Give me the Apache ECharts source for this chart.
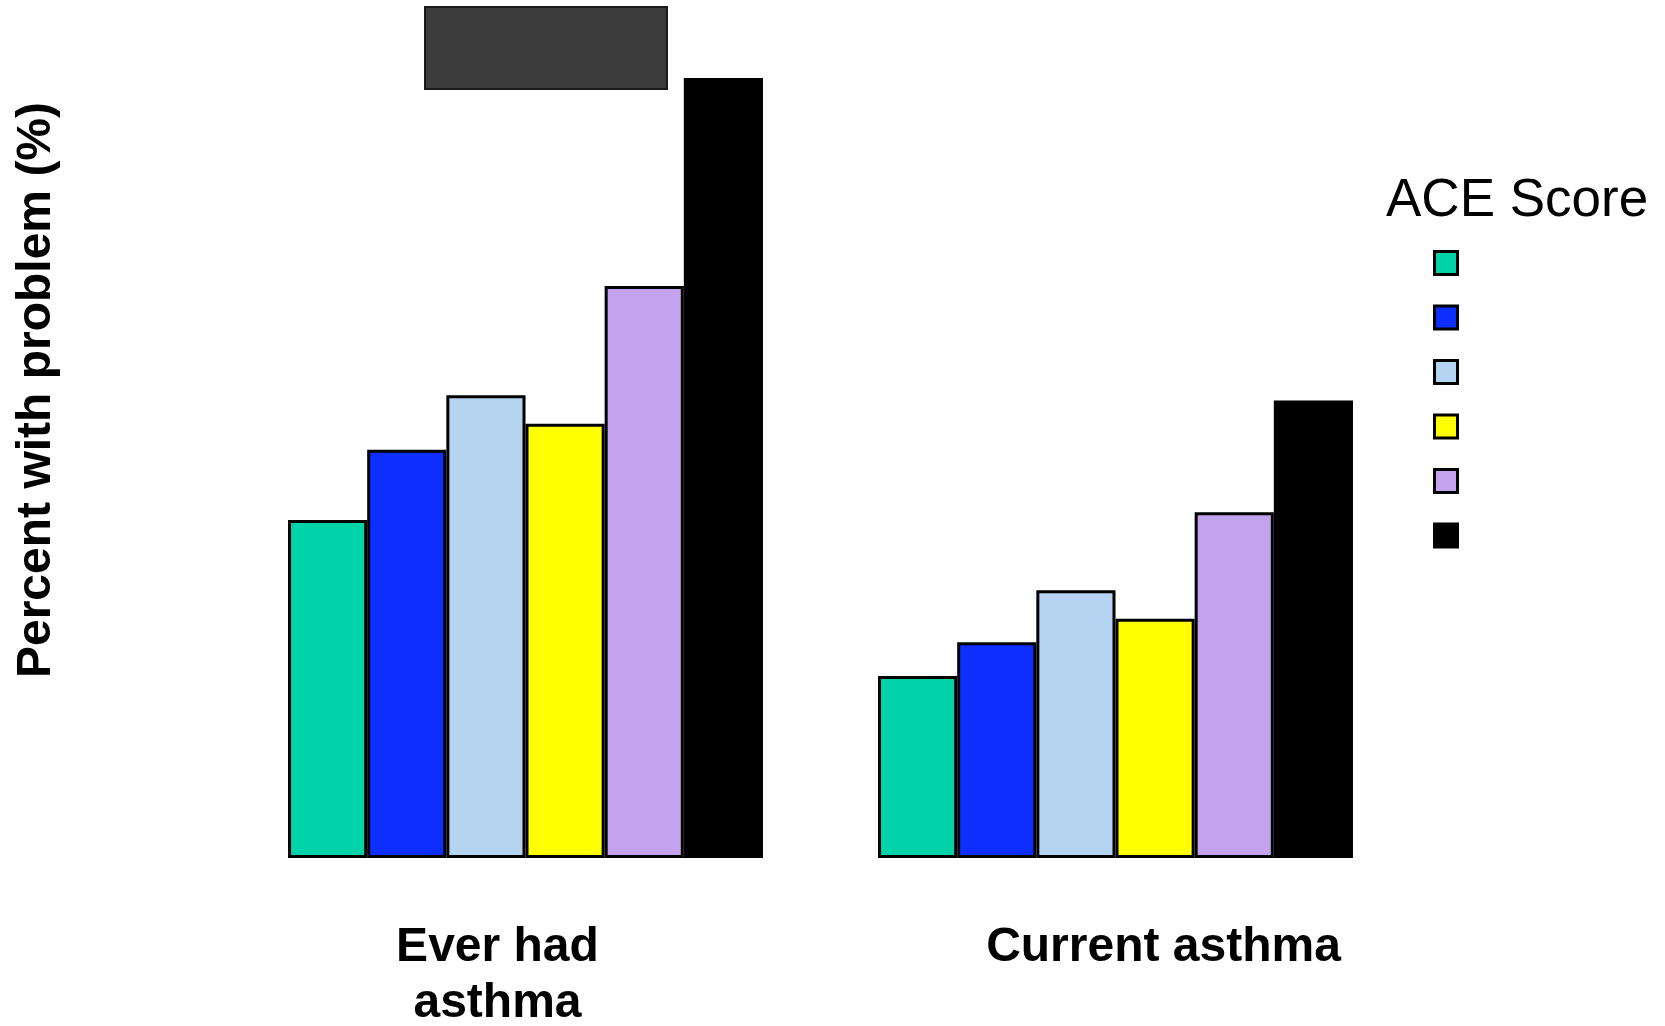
<!DOCTYPE html>
<html>
<head>
<meta charset="utf-8">
<script src="https://cdn.jsdelivr.net/npm/echarts@6/dist/echarts.min.js"></script>
<style>
  html, body { margin: 0; padding: 0; background: #fff; }
  #main { width: 1665px; height: 1026px; }
</style>
</head>
<body>
<div id="main"></div>
<script>
// data (percent, estimated)
var categories = ['Ever had\nasthma', 'Current asthma'];
var aceScores = ['0', '1', '2', '3', '4', '5+'];
var colors = ['#00D2AA', '#0D2EFF', '#B4D4F2', '#FFFF00', '#C3A3EE', '#000000'];
var everHad = [13.0, 15.7, 17.8, 16.7, 22.0, 30.0];
var current = [7.0, 8.3, 10.3, 9.2, 13.3, 17.6];

var font = '"Liberation Sans", Arial, sans-serif';

var series = aceScores.map(function (name, i) {
    return {
        name: name,
        type: 'bar',
        barGap: '0%',
        barCategoryGap: '19.5%',
        data: [everHad[i], current[i]],
        itemStyle: {
            color: colors[i],
            borderColor: '#000',
            borderWidth: 3
        }
    };
});

var myChart = echarts.init(document.getElementById('main'));
var option = {
    animation: false,
    title: {
        text: 'ACE Score',
        left: 1381,
        top: 170,
        textStyle: { fontFamily: font, fontSize: 53, fontWeight: 'normal', color: '#000' }
    },
    legend: {
        orient: 'vertical',
        left: 1428,
        top: 245,
        itemWidth: 23,
        itemHeight: 23,
        itemGap: 28.5,
        icon: 'rect',
        formatter: function () { return ''; },
        itemStyle: { borderColor: '#000', borderWidth: 3 },
        data: aceScores
    },
    grid: {
        left: 230.5,
        right: 254.5,
        top: 26,
        bottom: 168,
        outerBoundsMode: 'none'
    },
    xAxis: {
        type: 'category',
        data: [
            { value: categories[0], textStyle: { padding: [0, 56, 0, 0] } },
            { value: categories[1], textStyle: { padding: [0, 0, 0, 96] } }
        ],
        axisLine: { show: false },
        axisTick: { show: false },
        axisLabel: {
            margin: 62,
            fontFamily: font,
            fontSize: 48,
            fontWeight: 'bold',
            color: '#000',
            lineHeight: 56
        }
    },
    yAxis: {
        type: 'value',
        min: 0,
        max: 32,
        show: false
    },
    graphic: [
        {
            type: 'rect',
            shape: { x: 425, y: 7, width: 242, height: 82 },
            style: { fill: '#3B3B3B', stroke: '#1A1A1A', lineWidth: 2 }
        },
        {
            type: 'text',
            x: 37,
            y: 390,
            rotation: Math.PI / 2,
            style: {
                text: 'Percent with problem (%)',
                font: 'bold 48px ' + font,
                fill: '#000',
                align: 'center',
                verticalAlign: 'middle'
            }
        }
    ],
    series: series
};
myChart.setOption(option);
</script>
</body>
</html>
